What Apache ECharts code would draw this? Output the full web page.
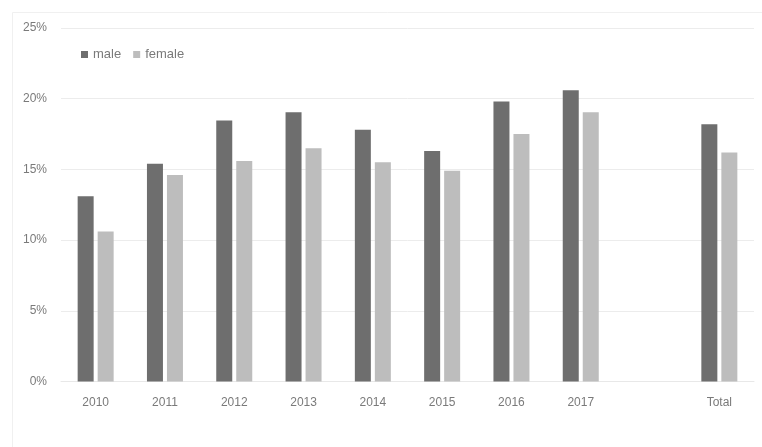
<!DOCTYPE html>
<html><head><meta charset="utf-8">
<script src="https://cdn.jsdelivr.net/npm/echarts@6/dist/echarts.min.js"></script>
<style>html,body{margin:0;padding:0;background:#fff}#c{width:762px;height:447px}</style>
</head><body><div id="c"></div>
<script>
var categories = ['2010','2011','2012','2013','2014','2015','2016','2017','','Total'];
var male = [13.1, 15.4, 18.45, 19.05, 17.8, 16.3, 19.8, 20.6, null, 18.2];
var female = [10.6, 14.6, 15.6, 16.5, 15.5, 14.9, 17.5, 19.05, null, 16.2];
var yTicks = [0, 5, 10, 15, 20, 25];

var chart = echarts.init(document.getElementById('c'), null, {renderer:'canvas'});
chart.setOption({
  animation: false,
  backgroundColor: '#fff',
  graphic: [{type:'rect', shape:{x:12.5,y:12.5,width:760,height:440}, style:{fill:'none', stroke:'#f0f0f0', lineWidth:1}}],
  legend: {
    left: 76, top: 43, itemWidth: 7, itemHeight: 7, itemGap: 12,
    icon: 'rect',
    textStyle: {color:'#7a7a7a', fontSize: 13, fontFamily:'Liberation Sans, Arial'},
    data: ['male','female']
  },
  grid: {left: 61, right: 8, top: 28, bottom: 65.5, containLabel: false},
  xAxis: {
    type: 'category', data: categories,
    axisLine: {show: true, lineStyle:{color:'#e8e8e8'}},
    axisTick: {show: false},
    axisLabel: {color:'#7a7a7a', fontSize: 12, margin: 15, fontFamily:'Liberation Sans, Arial'}
  },
  yAxis: {
    type: 'value', min: 0, max: 25, interval: 5,
    axisLine: {show:false}, axisTick:{show:false},
    splitLine: {lineStyle:{color:'#ececec'}},
    axisLabel: {color:'#7a7a7a', fontSize: 12, margin: 14, fontFamily:'Liberation Sans, Arial',
      formatter: function(v){ return yTicks.indexOf(v) >= 0 ? v + '%' : ''; }}
  },
  series: [
    {name:'male', type:'bar', data: male, barWidth: 16, barGap: '25%', itemStyle:{color:'#6e6e6e'}},
    {name:'female', type:'bar', data: female, barWidth: 16, itemStyle:{color:'#bdbdbd'}}
  ]
});
</script></body></html>
